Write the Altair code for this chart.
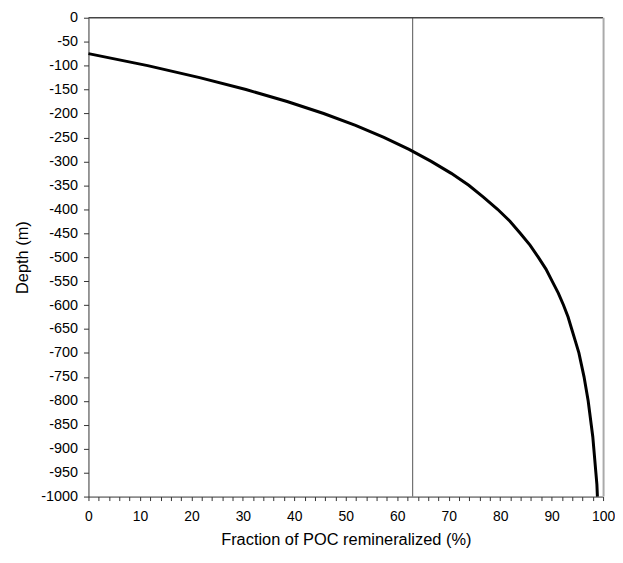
import altair as alt
import pandas as pd

# Curve: depth (m) vs fraction of POC remineralized (%)
depth = [-75, -100, -125, -150, -175, -200, -225, -250, -275, -300, -325, -350,
         -375, -400, -425, -450, -475, -500, -525, -550, -575, -600, -625, -650,
         -675, -700, -725, -750, -775, -800, -825, -850, -875, -900, -925, -950,
         -975, -1000]
fraction = [0.0, 11.5, 21.6, 30.6, 38.6, 45.7, 51.9, 57.4, 62.3, 66.6, 70.5, 73.9,
            76.8, 79.5, 81.9, 83.9, 85.8, 87.4, 88.9, 90.1, 91.3, 92.3, 93.2, 93.9,
            94.6, 95.3, 95.8, 96.3, 96.7, 97.1, 97.4, 97.7, 98.0, 98.2, 98.4, 98.6,
            98.8, 98.9]

ref_fraction = [63]

x_ticks = list(range(0, 101, 2))
y_ticks = list(range(0, -1001, -50))

curve_df = pd.DataFrame({"depth": depth, "fraction": fraction})
ref_df = pd.DataFrame({"fraction": ref_fraction})

FONT = "Liberation Sans"

x_enc = alt.X(
    "fraction:Q",
    scale=alt.Scale(domain=[0, 100], nice=False, zero=False),
    axis=alt.Axis(
        title="Fraction of POC remineralized (%)",
        values=x_ticks,
        labelExpr="datum.value % 10 == 0 ? '' + datum.value : ''",
        grid=False,
        tickSize=4,
        tickColor="#333333",
        domainColor="#333333",
        labelPadding=9,
        titlePadding=8,
        labelFlush=False,
        labelFontSize=14,
    ),
)
y_enc = alt.Y(
    "depth:Q",
    scale=alt.Scale(domain=[-1000, 0], nice=False, zero=False),
    axis=alt.Axis(
        title="Depth (m)",
        values=y_ticks,
        labelExpr="'' + datum.value",
        grid=False,
        tickSize=5,
        tickColor="#333333",
        domainColor="#333333",
        labelPadding=6,
        titlePadding=10,
        labelFlush=False,
        labelFontSize=14.5,
    ),
)

ref = alt.Chart(ref_df).mark_rule(color="#555555", strokeWidth=1).encode(x=x_enc)
curve = alt.Chart(curve_df).mark_line(color="black", strokeWidth=3).encode(
    x=x_enc, y=y_enc
)
top = alt.Chart(ref_df).mark_rule(color="#444444", strokeWidth=1.5).encode(
    x=alt.value(0), x2=alt.value(518), y=alt.value(0)
)
right = alt.Chart(ref_df).mark_rule(color="#aaaaaa", strokeWidth=2).encode(
    x=alt.value(518.5), y=alt.value(0), y2=alt.value(482)
)

chart = (
    alt.layer(ref, curve, top, right)
    .properties(
        width=518,
        height=482,
        autosize=alt.AutoSizeParams(type="none"),
        padding={"left": 81, "top": 8, "right": 12, "bottom": 53},
    )
    .configure_view(stroke=None)
    .configure_axis(
        labelFont=FONT,
        titleFont=FONT,
        titleFontSize=16.5,
        titleFontWeight="normal",
        labelColor="black",
        titleColor="black",
    )
)

chart.save("out.html", embed_options={"renderer": "svg", "actions": False})
